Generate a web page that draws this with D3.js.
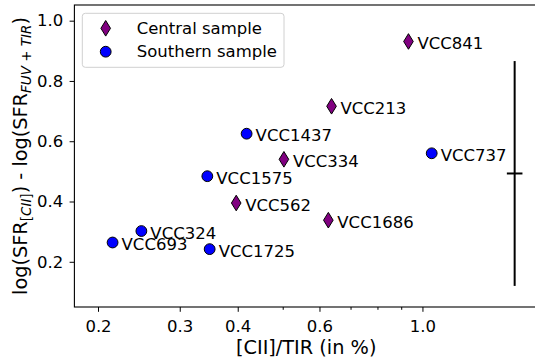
<!DOCTYPE html>
<html>
<head>
<meta charset="utf-8">
<script src="https://cdn.jsdelivr.net/npm/d3@7"></script>
<style>
body { margin: 0; background: #fff; }
text { font-family: "DejaVu Sans", sans-serif; }
</style>
</head>
<body>
<div id="chart-area"></div>
<script>
// galaxy names, sample membership and measured values
var names = ["VCC841", "VCC213", "VCC334", "VCC562", "VCC1686",
	"VCC1437", "VCC737", "VCC1575", "VCC324", "VCC693", "VCC1725"];
var samples = ["Central", "Central", "Central", "Central", "Central",
	"Southern", "Southern", "Southern", "Southern", "Southern", "Southern"];
var ciiTir = [0.933, 0.637, 0.503, 0.397, 0.627,
	0.418, 1.047, 0.344, 0.248, 0.215, 0.348];
var sfrDiff = [0.931, 0.716, 0.540, 0.395, 0.338,
	0.625, 0.560, 0.484, 0.302, 0.264, 0.242];

// typical error bar
var errX = [1.58];
var errY = [0.493];
var errSize = [0.373];

var xTicks = [0.2, 0.3, 0.4, 0.6, 1.0];
var xMinorTicks = [0.5, 0.7, 0.8, 0.9];
var yTicks = [0.2, 0.4, 0.6, 0.8, 1.0];
var xDomain = [0.1779, 1.774];
var yDomain = [0.05, 1.052];

var legendItems = ["Central sample", "Southern sample"];
var colors = { Central: "#800080", Southern: "#0000ff" };

var margin = { top: 5, right: -3, bottom: 51, left: 74.4 };
var width = 535;
var height = 358;

var chartWidth = width - margin.left - margin.right;
var chartHeight = height - margin.top - margin.bottom;

var svg = d3.select("#chart-area")
	.append("svg")
	.attr("width", width)
	.attr("height", height)
	.append("g")
	.attr("transform", "translate(" + margin.left + ", " + margin.top + ")");

var xScale = d3.scaleLog()
	.domain(xDomain)
	.range([0, chartWidth]);

var yScale = d3.scaleLinear()
	.domain(yDomain)
	.range([chartHeight, 0]);

var data = names.map(function (n, i) {
	return { name: n, sample: samples[i], x: ciiTir[i], y: sfrDiff[i] };
});

function diamond(w, h) {
	return "M0," + (-h) + "L" + w + ",0L0," + h + "L" + (-w) + ",0Z";
}

// axes
var xAxis = d3.axisBottom(xScale)
	.tickValues(xTicks)
	.tickFormat(d3.format(".1f"))
	.tickSize(4.8)
	.tickSizeOuter(0)
	.tickPadding(8);

var xMinor = d3.axisBottom(xScale)
	.tickValues(xMinorTicks)
	.tickFormat("")
	.tickSize(2.8)
	.tickSizeOuter(0);

var yAxis = d3.axisLeft(yScale)
	.tickValues(yTicks)
	.tickFormat(d3.format(".1f"))
	.tickSize(4.8)
	.tickSizeOuter(0)
	.tickPadding(6.3);

var xAxisG = svg.append("g")
	.attr("transform", "translate(0," + chartHeight + ")")
	.call(xAxis);

svg.append("g")
	.attr("transform", "translate(0," + chartHeight + ")")
	.call(xMinor)
	.select(".domain").remove();

var yAxisG = svg.append("g").call(yAxis);

svg.selectAll(".tick text")
	.attr("font-family", "DejaVu Sans")
	.attr("font-size", "16.5px")
	.attr("fill", "#000");
svg.selectAll(".tick line").attr("stroke", "#000").attr("stroke-width", 1);
svg.selectAll(".domain").remove();

// frame
svg.append("rect")
	.attr("x", 0)
	.attr("y", 0)
	.attr("width", chartWidth)
	.attr("height", chartHeight)
	.attr("fill", "none")
	.attr("stroke", "#000")
	.attr("stroke-width", 1.1);

// axis labels
svg.append("text")
	.attr("x", chartWidth / 2)
	.attr("y", chartHeight + 46.5)
	.attr("text-anchor", "middle")
	.attr("font-size", "19.3px")
	.attr("fill", "black")
	.text("[CII]/TIR (in %)");

var yLabel = svg.append("text")
	.attr("transform", "translate(" + (27 - margin.left) + "," + (chartHeight / 2) + ") rotate(-90)")
	.attr("text-anchor", "middle")
	.attr("font-size", "19.3px")
	.attr("fill", "black");
yLabel.append("tspan").text("log(SFR");
var sub1 = yLabel.append("tspan").attr("dy", 4).attr("font-size", "13.5px");
sub1.append("tspan").text("[");
sub1.append("tspan").attr("font-style", "italic").text("CII");
sub1.append("tspan").text("]");
yLabel.append("tspan").attr("dy", -4).text(") - log(SFR");
var sub2 = yLabel.append("tspan").attr("dy", 4).attr("font-size", "13.5px");
sub2.append("tspan").attr("font-style", "italic").text("FUV");
sub2.append("tspan").text(" + ");
sub2.append("tspan").attr("font-style", "italic").text("TIR");
yLabel.append("tspan").attr("dy", -4).text(")");

// error bar
var errG = svg.append("g").attr("stroke", "#000").attr("stroke-width", 2);
errG.selectAll(".err-v")
	.data(errX)
	.enter().append("line")
	.attr("x1", (d, i) => xScale(d))
	.attr("x2", (d, i) => xScale(d))
	.attr("y1", (d, i) => yScale(errY[i] + errSize[i]))
	.attr("y2", (d, i) => yScale(errY[i] - errSize[i]));
errG.selectAll(".err-c")
	.data(errX)
	.enter().append("line")
	.attr("x1", (d, i) => xScale(d) - 7.8)
	.attr("x2", (d, i) => xScale(d) + 7.8)
	.attr("y1", (d, i) => yScale(errY[i]))
	.attr("y2", (d, i) => yScale(errY[i]));

// points
svg.selectAll(".pt-central")
	.data(data.filter(d => d.sample === "Central"))
	.enter().append("path")
	.attr("d", diamond(4.8, 7.8))
	.attr("transform", d => "translate(" + xScale(d.x) + "," + yScale(d.y) + ")")
	.attr("fill", colors.Central)
	.attr("stroke", "#000")
	.attr("stroke-width", 1);

svg.selectAll(".pt-southern")
	.data(data.filter(d => d.sample === "Southern"))
	.enter().append("circle")
	.attr("cx", d => xScale(d.x))
	.attr("cy", d => yScale(d.y))
	.attr("r", 5.4)
	.attr("fill", colors.Southern)
	.attr("stroke", "#000")
	.attr("stroke-width", 1);

svg.selectAll(".pt-label")
	.data(data)
	.enter().append("text")
	.attr("x", d => xScale(d.x) + 9)
	.attr("y", d => yScale(d.y) + 7.5)
	.attr("font-size", "16.5px")
	.attr("fill", "#000")
	.text(d => d.name);

// legend
var legend = svg.append("g").attr("transform", "translate(7.9, 8.3)");
legend.append("rect")
	.attr("width", 201.7)
	.attr("height", 54)
	.attr("rx", 3)
	.attr("fill", "white")
	.attr("fill-opacity", 0.8)
	.attr("stroke", "#d0d0d0")
	.attr("stroke-width", 1);

var rows = legend.selectAll(".row")
	.data(legendItems)
	.enter().append("g")
	.attr("transform", (d, i) => "translate(23.4," + (15 + i * 23.4) + ")");

rows.filter((d, i) => i === 0).append("path")
	.attr("d", diamond(4.8, 7.8))
	.attr("fill", colors.Central)
	.attr("stroke", "#000");
rows.filter((d, i) => i === 1).append("circle")
	.attr("r", 5.4)
	.attr("fill", colors.Southern)
	.attr("stroke", "#000");
rows.append("text")
	.attr("x", 31)
	.attr("y", 5.5)
	.attr("font-size", "16.5px")
	.attr("fill", "#000")
	.text(d => d);
</script>
</body>
</html>
